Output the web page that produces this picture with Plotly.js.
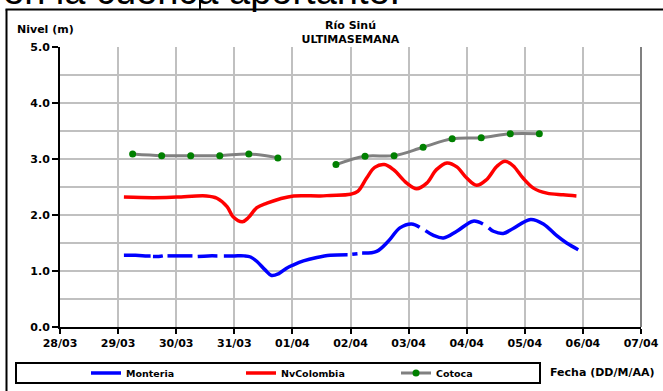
<!DOCTYPE html>
<html>
<head>
<meta charset="utf-8">
<script src="https://cdn.plot.ly/plotly-3.0.1.min.js"></script>
<style>
  html, body { margin: 0; padding: 0; background: #ffffff; }
  #chart { width: 663px; height: 391px; }
</style>
</head>
<body>
<div id="chart"></div>
<script>
// ---- Data ----
var monteriaTime = [
  '2011-03-29 02:24','2011-03-29 07:12','2011-03-29 12:00','2011-03-29 13:26','2011-03-29 13:55',
  '2011-03-29 14:24','2011-03-29 16:48','2011-03-29 18:29','2011-03-29 19:26',
  '2011-03-29 20:24','2011-03-30 01:12','2011-03-30 06:43','2011-03-30 07:41',
  '2011-03-30 08:53','2011-03-30 13:12','2011-03-30 17:02','2011-03-30 18:14',
  '2011-03-30 19:41','2011-03-31 00:00','2011-03-31 04:05','2011-03-31 06:43','2011-03-31 09:22',
  '2011-03-31 12:43','2011-03-31 15:22','2011-03-31 18:14','2011-03-31 21:36','2011-04-01 00:29',
  '2011-04-01 04:34','2011-04-01 10:05','2011-04-01 15:36','2011-04-01 22:48','2011-04-01 23:46',
  '2011-04-02 00:43','2011-04-02 02:53','2011-04-02 03:50',
  '2011-04-02 04:48','2011-04-02 10:48','2011-04-02 15:36','2011-04-02 20:24','2011-04-03 01:12','2011-04-03 04:34','2011-04-03 05:46',
  '2011-04-03 06:58','2011-04-03 10:05','2011-04-03 14:24','2011-04-03 19:55','2011-04-04 02:38','2011-04-04 06:43','2011-04-04 07:55',
  '2011-04-04 09:07','2011-04-04 11:02','2011-04-04 15:07','2011-04-04 19:12','2011-04-05 02:24','2011-04-05 07:41',
  '2011-04-05 13:12','2011-04-05 17:17','2011-04-05 22:05'
];
var monteriaLevel = [
  1.28,1.28,1.27,1.27,null,
  1.26,1.26,1.27,null,
  1.27,1.27,1.27,null,
  1.26,1.27,1.27,null,
  1.27,1.27,1.27,1.25,1.17,
  1.02,0.92,0.95,1.05,1.11,
  1.18,1.24,1.28,1.29,null,
  1.30,1.31,null,
  1.32,1.35,1.53,1.77,1.84,1.78,null,
  1.72,1.64,1.59,1.71,1.89,1.84,null,
  1.77,1.71,1.67,1.76,1.92,1.84,
  1.63,1.50,1.38
];

var colombiaTime = [
  '2011-03-29 02:24','2011-03-29 14:40','2011-03-30 00:15','2011-03-30 12:30','2011-03-30 16:50',
  '2011-03-30 21:00','2011-03-30 23:30','2011-03-31 03:20','2011-03-31 05:45','2011-03-31 09:20',
  '2011-03-31 13:30','2011-03-31 19:00','2011-04-01 00:30','2011-04-01 11:30','2011-04-01 15:40',
  '2011-04-02 00:00','2011-04-02 03:00','2011-04-02 06:40','2011-04-02 10:00','2011-04-02 14:00',
  '2011-04-02 17:45','2011-04-02 23:15','2011-04-03 03:20','2011-04-03 07:30','2011-04-03 11:30',
  '2011-04-03 15:50','2011-04-03 19:55','2011-04-04 00:00','2011-04-04 04:05','2011-04-04 08:10',
  '2011-04-04 12:30','2011-04-04 15:50','2011-04-04 19:10','2011-04-04 23:15','2011-04-05 03:35',
  '2011-04-05 09:05','2011-04-05 15:50','2011-04-05 21:20'
];
var colombiaLevel = [
  2.32,2.31,2.32,2.34,2.30,
  2.15,1.97,1.88,1.95,2.13,
  2.21,2.29,2.34,2.34,2.35,
  2.37,2.42,2.66,2.85,2.90,
  2.81,2.57,2.47,2.57,2.81,
  2.93,2.86,2.66,2.53,2.63,
  2.87,2.96,2.88,2.66,2.48,
  2.39,2.36,2.34
];

var cotocaTime = [
  '2011-03-29 06:00','2011-03-29 18:00','2011-03-30 06:00','2011-03-30 18:00','2011-03-31 06:00',
  '2011-03-31 18:00','2011-04-01 06:00','2011-04-01 18:00','2011-04-02 06:00','2011-04-02 18:00',
  '2011-04-03 06:00','2011-04-03 18:00','2011-04-04 06:00','2011-04-04 18:00','2011-04-05 06:00'
];
var cotocaLevel = [3.09,3.06,3.06,3.06,3.09,3.02,null,2.90,3.05,3.06,3.21,3.36,3.38,3.45,3.45];

var seriesNames = ['Monteria','NvColombia','Cotoca'];
var xRange = ['2011-03-28','2011-04-07'];
var yRange = [0, 5];

// ---- Layout helpers (pixel -> paper) ----
var W = 663, H = 391, ML = 60, MR = 22, MT = 47, MB = 64;
var PW = W - ML - MR, PH = H - MT - MB;
function px(x) { return (x - ML) / PW; }
function py(y) { return (H - MB - y) / PH; }

var boldFont = {family: 'DejaVu Sans', size: 11, color: '#000000', weight: 'bold'};

var traces = [
  {x: monteriaTime, y: monteriaLevel, name: seriesNames[0], type: 'scatter', mode: 'lines',
   line: {color: '#0000ff', width: 3.5, shape: 'spline', smoothing: 1}, connectgaps: false},
  {x: colombiaTime, y: colombiaLevel, name: seriesNames[1], type: 'scatter', mode: 'lines',
   line: {color: '#ff0000', width: 3.5, shape: 'spline', smoothing: 1}},
  {x: cotocaTime, y: cotocaLevel, name: seriesNames[2], type: 'scatter', mode: 'lines+markers',
   line: {color: '#808080', width: 3, shape: 'spline', smoothing: 1},
   marker: {color: '#008000', size: 7}, connectgaps: false}
];

var layout = {
  width: W, height: H,
  margin: {l: ML, r: MR, t: MT, b: MB, pad: 0, autoexpand: false},
  paper_bgcolor: '#ffffff', plot_bgcolor: '#ffffff',
  showlegend: true,
  title: {text: 'Río Sinú<br>ULTIMASEMANA', x: 0.5, xref: 'paper', y: 1 - 29 / H, yref: 'container',
          xanchor: 'center', yanchor: 'middle', font: boldFont},
  xaxis: {
    type: 'date', range: xRange, tick0: xRange[0], dtick: 86400000, tickformat: '%d/%m',
    showgrid: true, gridcolor: '#c0c0c0', gridwidth: 2,
    showline: true, linecolor: '#000000', linewidth: 2,
    ticks: 'outside', ticklen: 5, tickwidth: 2, tickcolor: '#000000',
    tickfont: boldFont, zeroline: false, fixedrange: true, automargin: false
  },
  yaxis: {
    range: yRange, dtick: 1, tick0: 0, tickformat: '.1f',
    showgrid: true, gridcolor: '#c0c0c0', gridwidth: 2,
    minor: {dtick: 0.5, showgrid: true, gridcolor: '#c0c0c0', gridwidth: 2},
    showline: true, linecolor: '#000000', linewidth: 2,
    ticks: 'outside', ticklen: 6, tickwidth: 2, tickcolor: '#000000',
    tickfont: boldFont, zeroline: false, fixedrange: true, automargin: false
  },
  legend: {
    orientation: 'h', x: px(86), xanchor: 'left', y: py(373), yanchor: 'middle',
    bgcolor: 'rgba(0,0,0,0)', borderwidth: 0, entrywidth: 110, itemwidth: 30,
    font: {family: 'DejaVu Sans', size: 9.5, color: '#000000', weight: 'bold'}
  },
  annotations: [
    {text: 'Nivel (m)', xref: 'paper', yref: 'paper', x: px(15), y: py(29), xanchor: 'left', yanchor: 'middle',
     showarrow: false, font: boldFont},
    {text: 'Fecha (DD/M/AA)', xref: 'paper', yref: 'paper', x: px(548), y: py(372), xanchor: 'left', yanchor: 'middle',
     showarrow: false, font: boldFont},
    {text: 'en la cuenca aportante.', xref: 'paper', yref: 'paper', x: px(1), y: py(-9), xanchor: 'left', yanchor: 'middle',
     showarrow: false, font: {family: 'Liberation Sans', size: 38, color: '#000000'}}
  ],
  shapes: [
    // right edge of plot area
    {type: 'line', xref: 'paper', yref: 'paper', x0: 1, x1: 1, y0: 0, y1: 1, line: {color: '#808080', width: 2}},
    // outer frame (left and top)
    {type: 'line', xref: 'paper', yref: 'paper', x0: px(6.5), x1: px(6.5), y0: py(9.5), y1: py(400), line: {color: '#000000', width: 2}},
    {type: 'line', xref: 'paper', yref: 'paper', x0: px(5.5), x1: px(670), y0: py(9.5), y1: py(9.5), line: {color: '#000000', width: 2}},
    {type: 'line', xref: 'paper', yref: 'paper', x0: px(200), x1: px(200), y0: py(-2), y1: py(9.5), line: {color: '#000000', width: 2}},
    // legend box
    {type: 'rect', xref: 'paper', yref: 'paper', x0: px(16), x1: px(540), y0: py(363), y1: py(383),
     line: {color: '#000000', width: 2}, fillcolor: 'rgba(0,0,0,0)'}
  ]
};

Plotly.newPlot('chart', traces, layout, {staticPlot: true, displayModeBar: false});
</script>
</body>
</html>
